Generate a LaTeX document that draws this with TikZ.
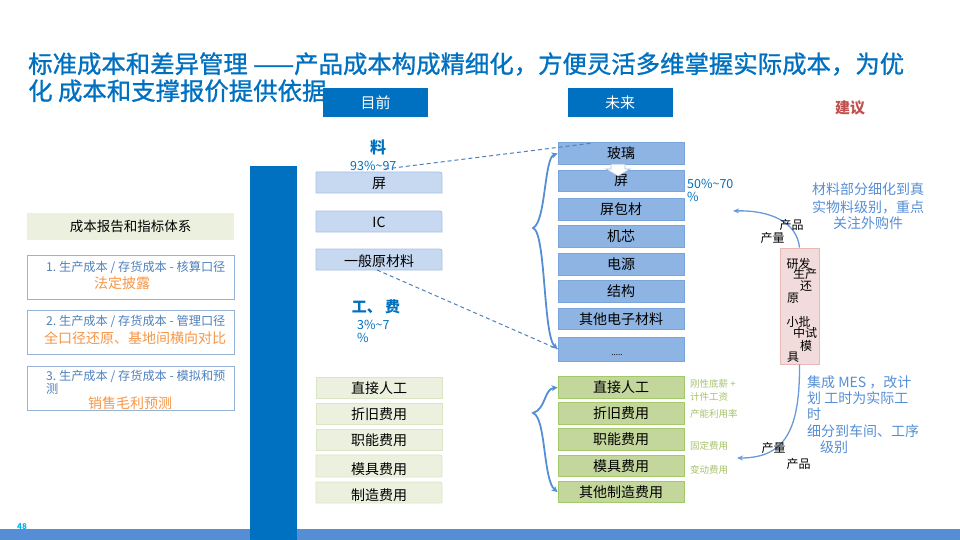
\documentclass[tikz,border=0pt]{standalone}
\usepackage{fontspec}
\setmainfont{Noto Sans CJK SC}
\newfontfamily\ttlfont[FakeBold=1]{Noto Sans CJK SC}
\usetikzlibrary{arrows.meta}
\definecolor{tblue}{HTML}{0070C0}
\definecolor{barblue}{HTML}{558ED5}
\definecolor{cmfill}{HTML}{C6D9F1}
\definecolor{cmdraw}{HTML}{A8C2E3}
\definecolor{fmfill}{HTML}{8EB4E3}
\definecolor{fmdraw}{HTML}{7AA5DB}
\definecolor{clfill}{HTML}{EBF1DE}
\definecolor{cldraw}{HTML}{D9E5C3}
\definecolor{flfill}{HTML}{C3D69B}
\definecolor{fldraw}{HTML}{A3C96C}
\definecolor{glabel}{HTML}{A5C26B}
\definecolor{pinkfill}{HTML}{F2DCDB}
\definecolor{pinkdraw}{HTML}{E6B9B8}
\definecolor{lboxdraw}{HTML}{95B3D7}
\definecolor{ltext}{HTML}{4F81BD}
\definecolor{orng}{HTML}{F79646}
\definecolor{rtext}{HTML}{558ED5}
\definecolor{sugg}{HTML}{C0504D}
\definecolor{pgnum}{HTML}{00B0F0}
\definecolor{dashc}{HTML}{4F81BD}
\definecolor{arrc}{HTML}{6A9AD8}
\newcommand\fsz[1]{\fontsize{#1}{#1}\selectfont}
\newcommand\tabrect[5]{\path[#1] (#2,#3) -- (#4-5,#3) .. controls (#4,#3) .. (#4,#3+5) -- (#4,#5) -- (#2,#5) -- cycle;}
\begin{document}
\begin{tikzpicture}[x=1pt,y=-1pt,
  hdr/.style={fill=tblue,text=white,minimum width=105,minimum height=29,inner sep=0,font=\fsz{15}},
  txt/.style={inner sep=0,font=\fsz{14}},
  cmat/.style={fill=cmfill,draw=cmdraw,line width=0.8},
  clab/.style={fill=clfill,draw=cldraw,line width=0.8},
  fmat/.style={fill=fmfill,draw=fmdraw,line width=0.8,minimum width=126,minimum height=21.5,inner sep=0,font=\fsz{14}},
  flab/.style={fill=flfill,draw=fldraw,line width=0.8,minimum width=126,minimum height=21.5,inner sep=0,font=\fsz{14}},
  lbox/.style={fill=white,draw=lboxdraw,line width=0.8,minimum width=207,minimum height=44,inner sep=0},
  ltxt/.style={inner sep=0,anchor=west,text=ltext,font=\fsz{12.2}},
  otxt/.style={inner sep=0,text=orng,font=\fsz{14}},
  pct/.style={inner sep=0,anchor=west,text=tblue,font=\fsz{12.5}},
  gl/.style={inner sep=0,anchor=west,text=glabel,font=\fsz{9.5}},
  rt/.style={inner sep=0,text=rtext,font=\fsz{14}},
  pk/.style={inner sep=0,font=\fsz{12}},
  sm/.style={inner sep=0,font=\fsz{12}},
  brace/.style={draw=barblue,line width=1.8,{Stealth[length=6pt,width=6pt]}-{Stealth[length=6pt,width=6pt]}},
  dline/.style={draw=dashc,line width=1,dash pattern=on 4pt off 3pt},
  carr/.style={draw=arrc,line width=1.3,-{Stealth[length=6pt,width=5pt]}}
]
\useasboundingbox (0,0) rectangle (960,540);
% bottom bar and vertical bar
\fill[barblue] (0,529) rectangle (960,540);
\fill[tblue] (250,166) rectangle (297,540);
\node[inner sep=0,text=pgnum,font=\fsz{8}\bfseries] (pg) at (22,527) {48};
% headers
\node[hdr] (hnow) at (375.5,102.5) {目前};
\node[hdr] (hfut) at (620,102.5) {未来};
\node[inner sep=0,text=sugg,font=\fsz{15}\bfseries] (hsug) at (850,108) {建议};
% title
\node[inner sep=0,anchor=base west,text=tblue,font=\ttlfont\fsz{24.4}] (t1) at (28,73) {标准成本和差异管理 ——产品成本构成精细化，方便灵活多维掌握实际成本，为优};
\node[inner sep=0,anchor=base west,text=tblue,font=\ttlfont\fsz{24.4}] (t2) at (28,100) {化 成本和支撑报价提供依据};
% left column
\node[fill=clfill,minimum width=207,minimum height=27,inner sep=0,font=\fsz{13.5}] (rep) at (130.5,226.5) {成本报告和指标体系};
\node[lbox] (b1) at (130.5,277) {};
\node[lbox] (b2) at (130.5,332.5) {};
\node[lbox] (b3) at (130.5,388) {};
\node[ltxt] (b1a) at (46,267) {1.\ 生产成本 / 存货成本 - 核算口径};
\node[otxt] (b1b) at (122,283) {法定披露};
\node[ltxt] (b2a) at (46,321) {2.\ 生产成本 / 存货成本 - 管理口径};
\node[otxt] (b2b) at (135,338) {全口径还原、基地间横向对比};
\node[ltxt] (b3a) at (46,376) {3.\ 生产成本 / 存货成本 - 模拟和预};
\node[ltxt] (b3c) at (46,389) {测};
\node[otxt] (b3b) at (130,403) {销售毛利预测};
% current materials
\node[inner sep=0,text=tblue,font=\fsz{16}\bfseries] (liao) at (378,147) {料};
\node[pct] (p1a) at (350,166) {93\%\textasciitilde 97};
\node[pct] (p1b) at (350,178) {\%};
\tabrect{cmat}{316}{172}{442}{193}
\tabrect{cmat}{316}{211}{442}{232}
\tabrect{cmat}{316}{249}{442}{270}
\node[txt] (cm1) at (379,184) {屏};
\node[txt] (cm2) at (379,222) {IC};
\node[txt] (cm3) at (379,261) {一般原材料};
\node[inner sep=0,text=tblue,font=\fsz{15}\bfseries] (gf) at (376,307) {工、 费};
\node[pct] (p2a) at (357,325) {3\%\textasciitilde 7};
\node[pct] (p2b) at (357,338) {\%};
% current labour
\path[clab] (316,377) rectangle (442,398);
\path[clab] (316,403) rectangle (442,424);
\path[clab] (316,429) rectangle (442,450);
\tabrect{clab}{316}{455}{442}{477}
\tabrect{clab}{316}{482}{442}{503}
\node[txt] (cl1) at (379,388) {直接人工};
\node[txt] (cl2) at (379,414) {折旧费用};
\node[txt] (cl3) at (379,440) {职能费用};
\node[txt] (cl4) at (379,469) {模具费用};
\node[txt] (cl5) at (379,495) {制造费用};
% future materials
\node[fmat] (fm1) at (621,153.5) {玻璃};
\node[fmat] (fm2) at (621,181) {\raisebox{-3pt}{屏}};
\node[fmat] (fm3) at (621,209.5) {屏包材};
\node[fmat] (fm4) at (621,236.5) {机芯};
\node[fmat] (fm5) at (621,264.5) {电源};
\node[fmat] (fm6) at (621,291.5) {结构};
\node[fmat] (fm7) at (621,319) {其他电子材料};
\node[fmat,minimum height=24] (fm8) at (621,349) {};
\node[inner sep=0,font=\fsz{8}] (dots) at (617,355) {.....};
\path[fill=white,draw=cmdraw,line width=0.6] (611,164.5) -- (611,169) -- (606,169) -- (618,176) -- (630,169) -- (625,169) -- (625,164.5);
\node[pct] (p3a) at (687,184) {50\%\textasciitilde 70};
\node[pct] (p3b) at (687,197) {\%};
% future labour
\node[flab] (fl1) at (621,387.5) {直接人工};
\node[flab] (fl2) at (621,413.5) {折旧费用};
\node[flab] (fl3) at (621,439.5) {职能费用};
\node[flab] (fl4) at (621,466) {模具费用};
\node[flab] (fl5) at (621,492) {其他制造费用};
\node[gl] (g1) at (690,384) {刚性底薪 +};
\node[gl] (g2) at (690,397) {计件工资};
\node[gl] (g3) at (690,414) {产能利用率};
\node[gl] (g4) at (690,446) {固定费用};
\node[gl] (g5) at (690,470) {变动费用};
% braces
\draw[brace] (fm1.west) .. controls (544,158) and (546,222) .. (533,228) .. controls (546,232) and (543,336) .. (fm8.west);
\draw[brace] (fl1.west) .. controls (544,389) and (546,409) .. (533,413) .. controls (546,417) and (543,480) .. (fl5.west);
% dashed
\coordinate (d1s) at (385,169);
\coordinate (d1e) at (593,143);
\coordinate (d2s) at (377,270);
\draw[dline] (d1s) -- (d1e);
\draw[dline] (d2s) -- (fm8.west);
% pink box
\node[fill=pinkfill,draw=pinkdraw,line width=0.8,minimum width=39,minimum height=116,inner sep=0] (pkb) at (799.5,306) {};
\node[pk] (k1) at (798.5,263.5) {研发};
\node[pk] (k2) at (805,274) {生产};
\node[pk] (k3) at (806,286) {还};
\node[pk] (k4) at (793,298) {原};
\node[pk] (k5) at (798.5,322) {小批};
\node[pk] (k6) at (805,333) {中试};
\node[pk] (k7) at (806,345.5) {模};
\node[pk] (k8) at (793,357) {具};
% curved arrows
\coordinate (a1) at (733,211);
\coordinate (a2) at (737,458);
\draw[carr] (pkb.north) .. controls (797,222) and (770,210) .. (a1);
\draw[carr] (pkb.south) .. controls (800,430) and (785,458) .. (a2);
\node[sm] (q1) at (791.5,225) {产品};
\node[sm] (q2) at (772.5,238) {产量};
\node[sm] (q3) at (773.5,447.5) {产量};
\node[sm] (q4) at (798.5,464) {产品};
% right text
\node[rt] (r1) at (868,189) {材料部分细化到真};
\node[rt] (r2) at (868,207) {实物料级别，重点};
\node[rt] (r3) at (868,223) {关注外购件};
\node[rt,anchor=west] (s1) at (807,382) {集成 MES ，改计};
\node[rt,anchor=west] (s2) at (807,398) {划 工时为实际工};
\node[rt,anchor=west] (s3) at (807,414) {时};
\node[rt,anchor=west] (s4) at (807,431) {细分到车间、工序};
\node[rt,anchor=west] (s5) at (820,447) {级别};
\end{tikzpicture}
\end{document}
